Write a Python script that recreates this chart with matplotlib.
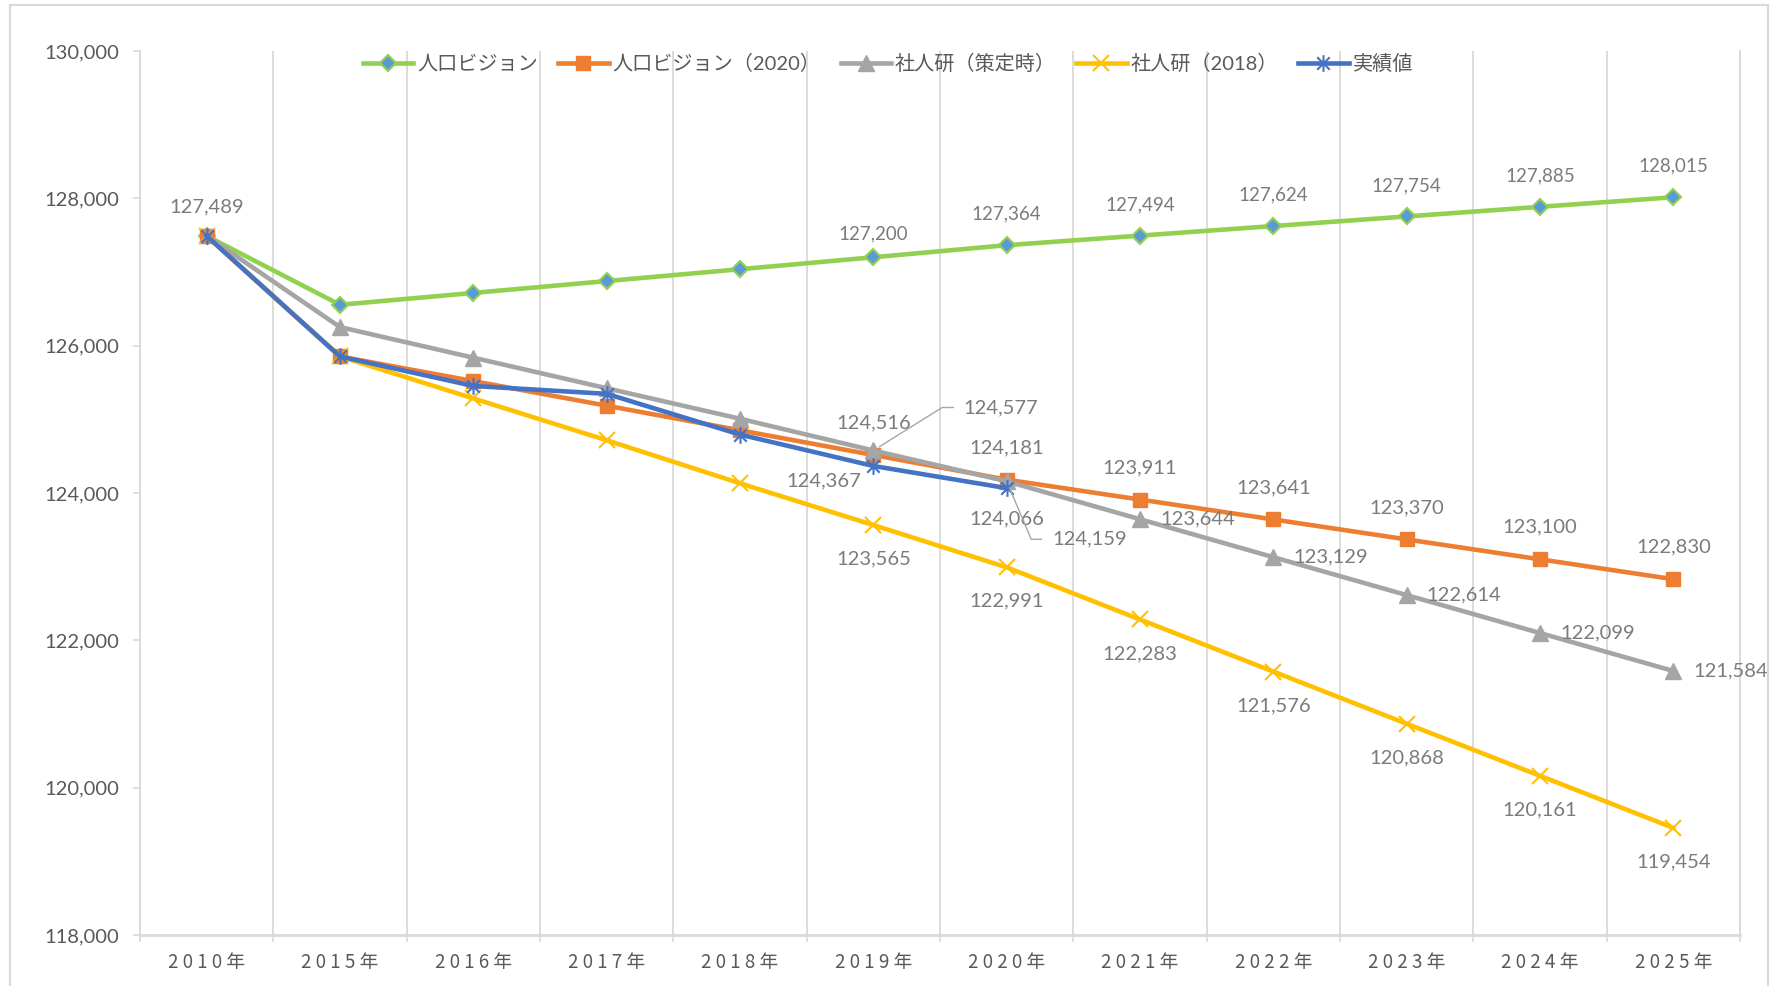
import matplotlib
matplotlib.use("Agg")
import matplotlib.pyplot as plt
from matplotlib.path import Path
from matplotlib.patches import Rectangle
from matplotlib.ticker import FuncFormatter, FixedLocator

years = ["2010年", "2015年", "2016年", "2017年", "2018年", "2019年",
         "2020年", "2021年", "2022年", "2023年", "2024年", "2025年"]
vision = [127489, 126555, 126716, 126877, 127038, 127200,
          127364, 127494, 127624, 127754, 127885, 128015]
vision2020 = [127489, 125853, 125519, 125185, 124851, 124516,
              124181, 123911, 123641, 123370, 123100, 122830]
ipss = [127489, 126252, 125837, 125422, 125008, 124577,
        124159, 123644, 123129, 122614, 122099, 121584]
ipss2018 = [127489, 125853, 125284, 124716, 124132, 123565,
            122991, 122283, 121576, 120868, 120161, 119454]
actual = [127489, 125853, 125453, 125346, 124793, 124367, 124066]
names = ["人口ビジョン", "人口ビジョン（2020）", "社人研（策定時）", "社人研（2018）", "実績値"]

NUM = ["Lato", "Noto Sans CJK JP", "DejaVu Sans"]
JP = ["Noto Sans CJK JP", "DejaVu Sans"]
LBL = "#7b7b7b"
TXT = "#595959"
GRID = "#d9d9d9"

fig = plt.figure(figsize=(17.74, 9.86), dpi=100)
fig.patches.append(Rectangle((10 / 1774, -0.02), 1758 / 1774, 1 - 5 / 986 + 0.02,
                             transform=fig.transFigure, fill=False,
                             edgecolor=GRID, lw=1.5))
ax = fig.add_axes([140 / 1774, 1 - 935 / 986, 1600 / 1774, 884 / 986])

x = list(range(len(years)))
# Excel-like star marker: vertical line + X
star = Path([(0, -1), (0, 1), (-0.75, -0.75), (0.75, 0.75), (-0.75, 0.75), (0.75, -0.75)],
            [Path.MOVETO, Path.LINETO, Path.MOVETO, Path.LINETO, Path.MOVETO, Path.LINETO])

ax.plot(x, vision, color="#92D050", lw=3.3, marker="D", ms=8.5,
        mfc="#5B9BD5", mec="#92D050", mew=1.5, label=names[0], zorder=3)
ax.plot(x, vision2020, color="#ED7D31", lw=3.3, marker="s", ms=10.5,
        mfc="#ED7D31", mec="#ED7D31", label=names[1], zorder=4)
ax.plot(x, ipss, color="#A5A5A5", lw=3.3, marker="^", ms=11,
        mfc="#A5A5A5", mec="#A5A5A5", markevery=list(range(1, 12)), label=names[2], zorder=5)
ax.plot(x, ipss2018, color="#FFC000", lw=3.3, marker="x", ms=11,
        mec="#FFC000", mew=1.5, label=names[3], zorder=6)
ax.plot(x[:len(actual)], actual, color="#4472C4", lw=3.3, marker=star, ms=12,
        mec="#4472C4", mew=1.5, label=names[4], zorder=7)

ax.set_xlim(-0.5, len(years) - 0.5)
ax.set_ylim(118000, 130000)
ax.set_yticks(range(118000, 130001, 2000))
ax.yaxis.set_major_formatter(FuncFormatter(lambda v, p: f"{int(v):,}"))
ax.set_xticks(x)
ax.set_xticklabels([" ".join(y) for y in years], family=JP, fontsize=13.5, color=TXT)
ax.xaxis.set_minor_locator(FixedLocator([i - 0.5 for i in range(len(years) + 1)]))
ax.tick_params(axis="x", which="major", length=0, pad=12)
ax.tick_params(axis="x", which="minor", length=5, width=1.2, color=GRID)
ax.tick_params(axis="y", length=5, width=1.2, color=GRID, pad=10, labelsize=14.5, labelcolor=TXT)
for t in ax.get_yticklabels():
    t.set_family(NUM)
ax.grid(axis="x", which="minor", color=GRID, lw=1.3)
ax.set_axisbelow(True)
ax.spines["top"].set_visible(False)
for s in ["left", "right", "bottom"]:
    ax.spines[s].set_color(GRID)
    ax.spines[s].set_linewidth(1.3)
ax.spines["bottom"].set_linewidth(2)


def lab(i, v, dx, dy, size=14.5, ha="center"):
    ax.annotate(f"{v:,}", (i, v), xytext=(dx, dy), textcoords="offset pixels",
                ha=ha, va="center", fontsize=size, color=LBL, family=NUM, zorder=8)


lab(0, vision[0], 0, 29)
for i in range(5, 12):
    lab(i, vision[i], 0, 23 if i == 5 else 31, size=13.5)
for i in range(5, 12):
    lab(i, vision2020[i], 0, 32)
for i in range(5, 12):
    lab(i, ipss2018[i], 0, -34)
for i in range(7, 12):
    lab(i, ipss[i], 20, 0, ha="left")
lab(5, actual[5], -50, -15)
lab(6, actual[6], 0, -31)

# leader-lined labels for 社人研（策定時） 2019 / 2020
ax.annotate(f"{ipss[5]:,}", (5, ipss[5]), xytext=(90, 43), textcoords="offset pixels",
            ha="left", va="center", fontsize=14.5, color=LBL, family=NUM, zorder=8,
            arrowprops=dict(arrowstyle="-", color="#a6a6a6", lw=1, relpos=(0, 0.5),
                            shrinkA=5, shrinkB=5,
                            connectionstyle="angle,angleA=0,angleB=32,rad=0"))
ax.annotate(f"{ipss[6]:,}", (6, ipss[6]), xytext=(46, -58), textcoords="offset pixels",
            ha="left", va="center", fontsize=14.5, color=LBL, family=NUM, zorder=8,
            arrowprops=dict(arrowstyle="-", color="#a6a6a6", lw=1, relpos=(0, 0.5),
                            shrinkA=6, shrinkB=5,
                            connectionstyle="angle,angleA=0,angleB=-67,rad=0"))

leg = fig.legend(loc="center", bbox_to_anchor=(888 / 1774, 1 - 63 / 986), ncol=5,
                 frameon=False, handlelength=2.5, handletextpad=0.2, columnspacing=1.0,
                 prop={"family": NUM, "size": 14.5})
for t in leg.get_texts():
    t.set_color(TXT)

fig.savefig("out.png", dpi=100)
